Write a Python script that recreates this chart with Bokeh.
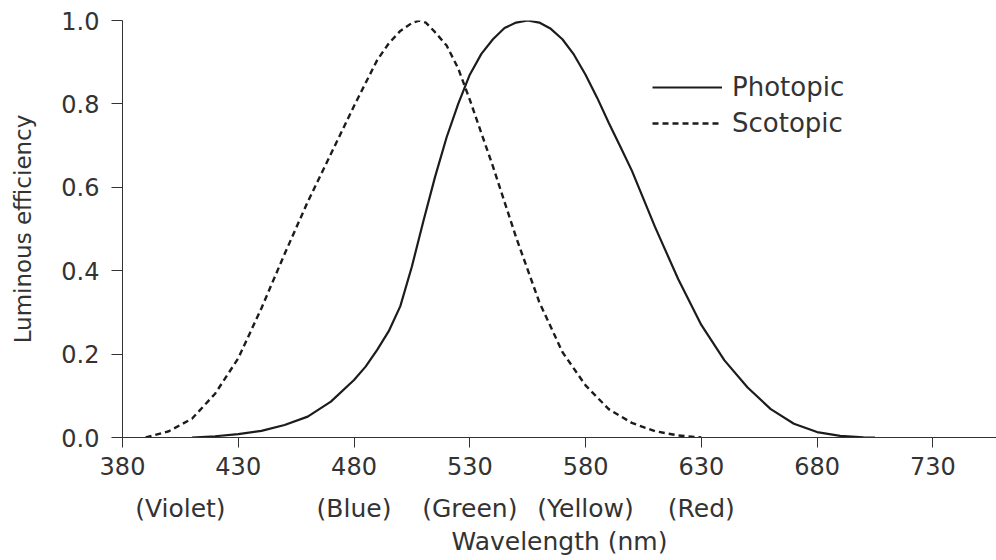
from bokeh.plotting import figure
from bokeh.models import (LinearAxis, FixedTicker, PrintfTickFormatter, Range1d,
                          Legend, LegendItem, ColumnDataSource)
from bokeh.embed import file_html
from bokeh.resources import INLINE

# ---- data ----
photopic_nm = [410, 420, 430, 440, 450, 460, 470, 480, 485, 490, 495, 500, 505, 510, 515,
               520, 525, 530, 535, 540, 545, 550, 555, 560, 565, 570, 575, 580, 585, 590,
               595, 600, 610, 620, 630, 640, 650, 660, 670, 680, 690, 700, 705]
photopic_val = [0.0, 0.003, 0.008, 0.016, 0.03, 0.05, 0.086, 0.138, 0.17, 0.21, 0.255,
                0.315, 0.41, 0.52, 0.625, 0.72, 0.80, 0.87, 0.92, 0.955, 0.982, 0.995,
                1.0, 0.995, 0.98, 0.955, 0.918, 0.87, 0.815, 0.755, 0.698, 0.64, 0.505,
                0.38, 0.27, 0.185, 0.12, 0.068, 0.033, 0.013, 0.004, 0.0005, 0.0]

scotopic_nm = [390, 400, 410, 420, 430, 440, 450, 460, 470, 480, 490, 495, 500, 505,
               508, 511, 515, 520, 525, 530, 540, 550, 560, 570, 580, 590, 600, 610,
               620, 630]
scotopic_val = [0.0, 0.015, 0.045, 0.105, 0.19, 0.31, 0.44, 0.565, 0.68, 0.795, 0.905,
                0.945, 0.975, 0.994, 1.0, 0.995, 0.972, 0.94, 0.885, 0.81, 0.65, 0.48,
                0.325, 0.205, 0.125, 0.068, 0.035, 0.015, 0.005, 0.0]

x_ticks = [380, 430, 480, 530, 580, 630, 680, 730]
y_ticks = [0.0, 0.2, 0.4, 0.6, 0.8, 1.0]
color_pos = [405, 480, 530, 580, 630]
color_names = ["(Violet)", "(Blue)", "(Green)", "(Yellow)", "(Red)"]
series_names = ["Photopic", "Scotopic"]

FONT = "DejaVu Sans"
TXT = "#333333"
LINE = "#1c1c1c"

p = figure(width=996, height=560, output_backend="svg", toolbar_location=None,
           x_range=Range1d(380, 757.5), y_range=Range1d(0, 1.0),
           min_border_left=122, min_border_right=0, min_border_top=20,
           min_border_bottom=123)
p.outline_line_color = None
p.grid.visible = False
p.background_fill_color = "white"
p.border_fill_color = "white"

src_p = ColumnDataSource(dict(x=photopic_nm, y=photopic_val))
src_s = ColumnDataSource(dict(x=scotopic_nm, y=scotopic_val))
r1 = p.line("x", "y", source=src_p, line_color=LINE, line_width=2.2)
r2 = p.line("x", "y", source=src_s, line_color=LINE, line_width=2.4, line_dash="6 4")

# y axis
ya = p.yaxis[0]
ya.ticker = FixedTicker(ticks=y_ticks)
ya.formatter = PrintfTickFormatter(format="%.1f")
ya.major_tick_out = 11
ya.major_tick_in = 0
ya.minor_tick_out = 0
ya.minor_tick_in = 0
ya.axis_line_color = TXT
ya.major_tick_line_color = TXT
ya.major_label_standoff = 12
ya.major_label_text_font = FONT
ya.major_label_text_font_size = "24px"
ya.major_label_text_color = TXT
ya.axis_label = "Luminous efficiency"
ya.axis_label_text_font = FONT
ya.axis_label_text_font_size = "23px"
ya.axis_label_text_font_style = "normal"
ya.axis_label_text_color = TXT
ya.axis_label_standoff = 22

# x axis (numbers)
xa = p.xaxis[0]
xa.ticker = FixedTicker(ticks=x_ticks)
xa.major_tick_out = 10
xa.major_tick_in = 0
xa.minor_tick_out = 0
xa.minor_tick_in = 0
xa.axis_line_color = TXT
xa.major_tick_line_color = TXT
xa.major_label_standoff = 9
xa.major_label_text_font = FONT
xa.major_label_text_font_size = "24px"
xa.major_label_text_color = TXT

# second x axis (colour names + title)
xa2 = LinearAxis(ticker=FixedTicker(ticks=color_pos),
                 major_label_overrides={k: v for k, v in zip(color_pos, color_names)})
xa2.axis_line_color = None
xa2.major_tick_line_color = None
xa2.minor_tick_line_color = None
xa2.major_tick_out = 0
xa2.major_tick_in = 0
xa2.minor_tick_out = 0
xa2.minor_tick_in = 0
xa2.major_label_standoff = 16
xa2.major_label_text_font = FONT
xa2.major_label_text_font_size = "25px"
xa2.major_label_text_color = TXT
xa2.axis_label = "Wavelength (nm)"
xa2.axis_label_text_font = FONT
xa2.axis_label_text_font_size = "25px"
xa2.axis_label_text_font_style = "normal"
xa2.axis_label_text_color = TXT
xa2.axis_label_standoff = 1
p.add_layout(xa2, "below")

legend = Legend(items=[LegendItem(label=series_names[0], renderers=[r1]),
                       LegendItem(label=series_names[1], renderers=[r2])],
                location=(530, 299))
legend.glyph_width = 70
legend.glyph_height = 30
legend.label_height = 30
legend.label_standoff = 10
legend.spacing = 6
legend.padding = 0
legend.margin = 0
legend.border_line_color = None
legend.background_fill_alpha = 0
legend.label_text_font = FONT
legend.label_text_font_size = "26px"
legend.label_text_color = TXT
p.add_layout(legend)

open("out.html", "w").write(file_html(p, INLINE))
